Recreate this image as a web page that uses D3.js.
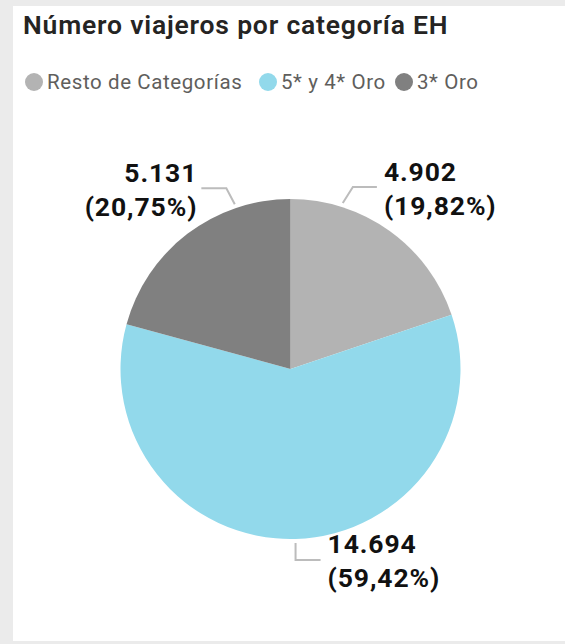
<!DOCTYPE html>
<html><head><meta charset="utf-8">
<script src="https://cdn.jsdelivr.net/npm/d3@7"></script>
<style>
html,body{margin:0;padding:0;background:#ebebeb;}
svg{display:block;}
</style></head>
<body>
<script>
const categories = ["Resto de Categorías", "5* y 4* Oro", "3* Oro"];
const values = [4902, 14694, 5131];
const valueLabels = ["4.902", "14.694", "5.131"];
const percentLabels = ["(19,82%)", "(59,42%)", "(20,75%)"];
const colors = ["#b3b3b3", "#92d9eb", "#808080"];

const W = 565, H = 644;
const svg = d3.select("body").append("svg").attr("width", W).attr("height", H);
svg.append("rect").attr("x", 13).attr("y", 6).attr("width", W - 13).attr("height", 635).attr("fill", "#fff");

svg.append("text").attr("x", 23).attr("y", 34)
  .attr("font-family", "Roboto, sans-serif").attr("font-weight", 600)
  .attr("font-size", 26.5).attr("letter-spacing", 0.8).attr("fill", "#252423")
  .text("Número viajeros por categoría EH");

// legend
const legendX = [34, 268, 404];
const lg = svg.append("g");
categories.forEach((c, i) => {
  lg.append("circle").attr("cx", legendX[i]).attr("cy", 82).attr("r", 9).attr("fill", colors[i]);
  lg.append("text").attr("x", legendX[i] + 13).attr("y", 89)
    .attr("font-family", "Roboto, sans-serif").attr("font-size", 20.5).attr("letter-spacing", 0.6)
    .attr("fill", "#605e5c").text(c);
});

const cx = 290.5, cy = 369, r = 170;
const pie = d3.pie().sort(null).value(d => d)(values);
const arc = d3.arc().innerRadius(0).outerRadius(r);
const g = svg.append("g").attr("transform", `translate(${cx},${cy})`);
g.selectAll("path").data(pie).enter().append("path")
  .attr("d", arc).attr("fill", (d, i) => colors[i]);

// leader lines: anchor fraction within slice, elbow and label placement (layout)
const anchorFrac = [0.245, 0.5, 0.75];
const leader = [
  {r1: 174, r2: 191, dx: 24, dir: 1},
  {r1: 174, r2: 191, dx: 25, dir: 1},
  {r1: 174, r2: 191, dx: -25, dir: -1}
];
pie.forEach((d, i) => {
  const a = d.startAngle + (d.endAngle - d.startAngle) * anchorFrac[i];
  const L = leader[i];
  const p1 = [L.r1 * Math.sin(a), -L.r1 * Math.cos(a)];
  let p2;
  if (i === 1) p2 = [p1[0], p1[1] + 17];
  else p2 = [L.r2 * Math.sin(a) + (i === 0 ? 5 : -3), p1[1] - 16];
  const p3 = [p2[0] + L.dx, p2[1]];
  g.append("polyline").attr("points", [p1, p2, p3].map(p => p.join(",")).join(" "))
    .attr("fill", "none").attr("stroke", "#bcbcbc").attr("stroke-width", 2);
  const tx = p3[0] + (L.dir > 0 ? 7 : -4);
  const anchor = L.dir > 0 ? "start" : "end";
  const ty = i === 1 ? p3[1] - 7 : p3[1] - 6;
  const t = g.append("text").attr("text-anchor", anchor)
    .attr("font-family", "Roboto, sans-serif").attr("font-weight", 700)
    .attr("font-size", 26.5).attr("letter-spacing", 0.9).attr("fill", "#111");
  t.append("tspan").attr("x", tx).attr("y", ty).text(valueLabels[i]);
  t.append("tspan").attr("x", tx).attr("y", ty + 34).text(percentLabels[i]);
});
</script>
</body></html>
